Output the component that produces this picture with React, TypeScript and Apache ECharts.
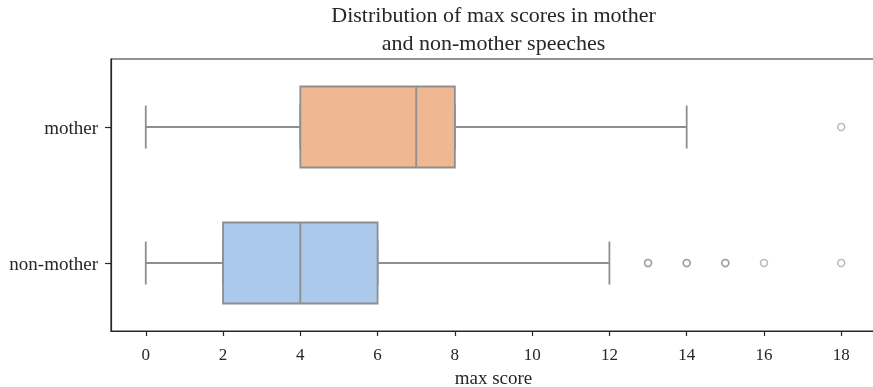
import React, { useEffect, useRef } from "react";
import * as echarts from "echarts";

const categories = ["mother", "non-mother"];
// [min, Q1, median, Q3, max]
const motherStats = [0, 4, 7, 8, 14];
const nonMotherStats = [0, 2, 4, 6, 12];
const motherOutliers = [18];
const nonMotherOutliers = [13, 13, 14, 14, 15, 15, 16, 18];
const xTicks = [0, 2, 4, 6, 8, 10, 12, 14, 16, 18];

const boxColors = ["#efb792", "#abc9ea"];
const lineGray = "#8f8f8f";
const ink = "#262626";
const FONT = "Liberation Serif";

export default function App() {
  const ref = useRef<HTMLDivElement>(null);
  useEffect(() => {
    if (!ref.current) return;
    const chart = echarts.init(ref.current, undefined, { renderer: "svg" });
    const outlierData: any[] = [];
    motherOutliers.forEach((v) => outlierData.push([v, categories[0]]));
    nonMotherOutliers.forEach((v) => outlierData.push([v, categories[1]]));
    const stats = [motherStats, nonMotherStats];
    // whiskers + caps (narrow) series
    const whiskerData = stats.map((s) => ({
      value: s,
      itemStyle: { color: "rgba(0,0,0,0)" },
    }));
    // boxes (wide) series: whiskers collapsed onto box edges
    const boxData = stats.map((s, i) => ({
      value: [s[1], s[1], s[2], s[3], s[3]],
      itemStyle: { color: boxColors[i] },
    }));
    const yBase = {
      type: "category",
      data: categories,
      inverse: true,
      splitLine: { show: false },
    };
    chart.setOption({
      animation: false,
      title: {
        text: "Distribution of max scores in mother\nand non-mother speeches",
        left: 493.5,
        textAlign: "center",
        top: 0,
        padding: 0,
        textStyle: {
          fontFamily: FONT,
          fontSize: 22,
          fontWeight: "normal",
          lineHeight: 28,
          color: ink,
        },
      },
      grid: {
        left: 111,
        top: 59,
        width: 765,
        height: 272,
        outerBoundsMode: "none",
        containLabel: false,
        show: true,
        borderColor: ink,
        borderWidth: 1.2,
        backgroundColor: "transparent",
      },
      xAxis: {
        type: "value",
        min: -0.9,
        max: 18.9,
        name: "max score",
        nameLocation: "middle",
        nameGap: 36,
        nameTextStyle: { fontFamily: FONT, fontSize: 19, lineHeight: 19, color: ink },
        axisLine: { show: true, onZero: false, lineStyle: { color: ink, width: 1.2 } },
        splitLine: { show: false },
        axisTick: {
          show: true,
          length: 5,
          lineStyle: { color: ink, width: 1.2 },
          customValues: xTicks,
        },
        axisLabel: {
          fontFamily: FONT,
          fontSize: 17,
          color: ink,
          margin: 15,
          customValues: xTicks,
        },
      },
      yAxis: [
        {
          ...yBase,
          axisLine: { show: true, onZero: false, lineStyle: { color: ink, width: 1.2 } },
          axisTick: {
            show: true,
            alignWithLabel: true,
            length: 6,
            lineStyle: { color: ink, width: 1.2 },
          },
          axisLabel: {
            fontFamily: FONT,
            fontSize: 19,
            color: ink,
            margin: 13,
          },
        },
        {
          ...yBase,
          position: "left",
          show: false,
          axisLine: { show: false, onZero: false },
          axisTick: { show: false },
          axisLabel: { show: false },
        },
      ],
      series: [
        {
          type: "boxplot",
          yAxisIndex: 1,
          boxWidth: [43, 43],
          itemStyle: { borderColor: lineGray, borderWidth: 1.8 },
          data: whiskerData,
          z: 2,
        },
        {
          type: "boxplot",
          yAxisIndex: 0,
          boxWidth: [81, 81],
          itemStyle: { borderColor: lineGray, borderWidth: 1.8 },
          data: boxData,
          z: 3,
        },
        {
          type: "scatter",
          yAxisIndex: 0,
          data: outlierData,
          symbol: "circle",
          symbolSize: 7,
          itemStyle: {
            color: "rgba(0,0,0,0)",
            borderColor: "#8a8a8a",
            borderWidth: 1.5,
            opacity: 0.6,
          },
          z: 5,
        },
      ],
    });
    return () => chart.dispose();
  }, []);
  return (
    <div
      ref={ref}
      style={{ position: "fixed", left: 0, top: 0, width: 873, height: 387 }}
    />
  );
}
